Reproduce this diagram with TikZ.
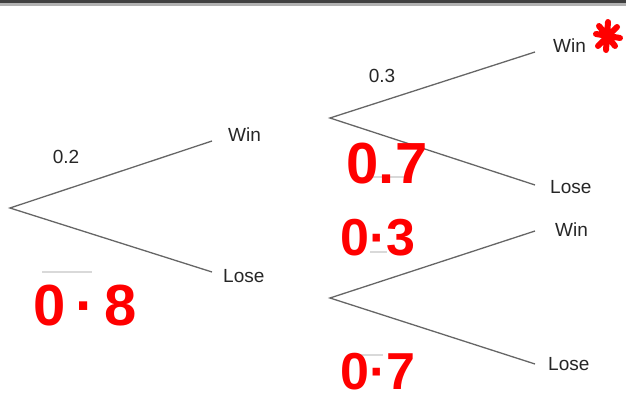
\documentclass[tikz,border=0pt]{standalone}
\usepackage{fontspec}
\setmainfont{Liberation Sans}

\begin{document}
\begin{tikzpicture}[x=1pt, y=-1pt,
  branch/.style={draw=black!60, line width=1.3pt},
  outcome/.style={anchor=west, inner sep=0pt, text=black!85, font=\fontsize{19}{19}\selectfont},
  prob/.style={inner sep=0pt, text=black!85, font=\fontsize{19}{19}\selectfont},
  scrawl/.style={inner sep=0pt, text=red, font=\fontsize{58}{58}\selectfont\bfseries},
  blank/.style={draw=black!15, line width=1.5pt}]
\path[use as bounding box] (0,0) rectangle (626,406);
\fill[black!75] (0,0) rectangle (626,3);
\fill[black!30] (0,3) rectangle (626,6);
% tree points
\coordinate (root) at (10,208);
\coordinate (a) at (330,118);
\coordinate (b) at (330,298);
\coordinate (aw) at (212,141);
\coordinate (al) at (212,272);
\coordinate (aaw) at (535,52);
\coordinate (aal) at (535,185);
\coordinate (bbw) at (535,231);
\coordinate (bbl) at (535,364);
\draw[branch] (aw) -- (root) -- (al);
\draw[branch] (aaw) -- (a) -- (aal);
\draw[branch] (bbw) -- (b) -- (bbl);
% outcomes
\node[outcome] (win1) at (228,135) {Win};
\node[outcome] (lose1) at (223,276) {Lose};
\node[outcome] (win2) at (553,46) {Win};
\node[outcome] (lose2) at (550,187) {Lose};
\node[outcome] (win3) at (555,230) {Win};
\node[outcome] (lose3) at (548,364) {Lose};
\node[prob] (p1) at (66,157) {0.2};
\node[prob] (p2) at (382,76) {0.3};
% blanks
\draw[blank] (42,272) -- (92,272);
\draw[blank] (370,177) -- (407,177);
\draw[blank] (370,252) -- (387,252);
\draw[blank] (360,355) -- (383,355);
% handwriting
\node[scrawl] (h1) at (85,306) {0\,·\,8};
\node[scrawl] (h2) at (387,164) {0.7};
\node[scrawl, font=\fontsize{52}{52}\selectfont\bfseries] (h3) at (378,238) {0·3};
\node[scrawl, font=\fontsize{52}{52}\selectfont\bfseries] (h4) at (378,372) {0·7};
\draw[red, line width=6pt, line cap=round]
  (608,22) -- (606,50) (596,34) -- (620,38) (598,46) -- (617,27) (599,26) -- (615,46);
\end{tikzpicture}
\end{document}
